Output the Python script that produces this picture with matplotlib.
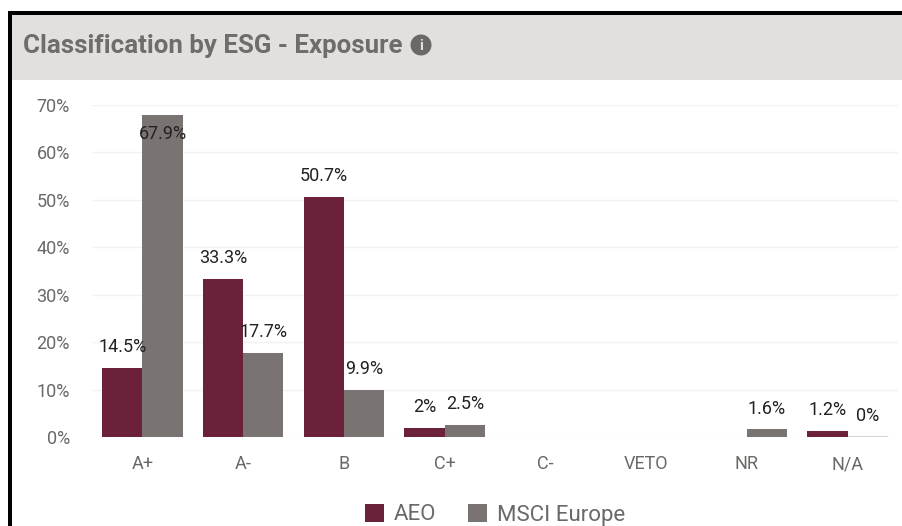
import numpy as np
import matplotlib
matplotlib.use('Agg')
import matplotlib.pyplot as plt
from matplotlib.patches import Rectangle, Circle

categories = ['A+', 'A-', 'B', 'C+', 'C-', 'VETO', 'NR', 'N/A']
aeo = [14.5, 33.3, 50.7, 2, None, None, None, 1.2]
msci = [67.9, 17.7, 9.9, 2.5, None, None, 1.6, 0]
yticks = [0, 10, 20, 30, 40, 50, 60, 70]

W, H = 902, 526
plt.rcParams['font.family'] = ['Roboto', 'DejaVu Sans']
fig = plt.figure(figsize=(W / 100, H / 100), dpi=100, facecolor='white')

# page furniture, in pixels from the top left
bg = fig.add_axes([0, 0, 1, 1])
bg.set_xlim(0, W)
bg.set_ylim(H, 0)
bg.axis('off')
bg.add_patch(Rectangle((11, 14), W - 11, 66, color='#e2dfdd', lw=0))
bg.add_patch(Rectangle((8, 11), W - 8, 3.5, color='black', lw=0))
bg.add_patch(Rectangle((8, 11), 3.5, H - 11, color='black', lw=0))
bg.text(23, 45.5, 'Classification by ESG - Exposure', fontsize=18.6, fontweight='bold',
        color='#6f6d6b', va='center', ha='left')
bg.add_patch(Circle((421, 45), 10.5, color='#6b6967', lw=0))
bg.text(421, 45.5, 'i', fontsize=11, fontweight='bold', color='#e2dfdd', va='center', ha='center')

# plot area: 0% at y=437, 70% at y=105
ax = fig.add_axes([92 / W, 1 - 437 / H, 806 / W, 332 / H])
ax.patch.set_alpha(0)
x = np.arange(len(categories))
w = 0.4

for i in range(len(categories)):
    if aeo[i] is not None:
        ax.bar(x[i] - w / 2, aeo[i], w, color='#6c213b', zorder=3)
    if msci[i] is not None:
        if msci[i] == 0:
            ax.bar(x[i] + w / 2, msci[i], w, color='#cfcdcc', edgecolor='#cfcdcc', linewidth=1.2, zorder=3)
        else:
            ax.bar(x[i] + w / 2, msci[i], w, color='#797472', zorder=3)


def put_label(xpos, val, dy=15):
    ax.annotate(f'{val}%', (xpos, val), xytext=(0, dy), textcoords='offset points',
                ha='center', va='center', fontsize=13, color='#222222', zorder=5)


for i in range(len(categories)):
    if aeo[i] is not None:
        put_label(x[i] - w / 2, aeo[i])
    if msci[i] is not None:
        # the tallest label sits inside its bar
        put_label(x[i] + w / 2, msci[i], -14 if msci[i] > 60 else 15)

ax.set_xlim(-0.5, 7.5)
ax.set_ylim(0, 70)
ax.set_xticks(x)
ax.set_xticklabels(categories)
ax.set_yticks(yticks)
ax.set_yticklabels([f'{v}%' for v in yticks])
ax.tick_params(length=0, labelsize=13, labelcolor='#6b6967')
ax.tick_params(axis='x', pad=13)
ax.tick_params(axis='y', pad=16)
ax.grid(axis='y', color='#f3f2f2', linewidth=1, zorder=0)
ax.set_axisbelow(True)
for s in ax.spines.values():
    s.set_visible(False)

# legend
bg.add_patch(Rectangle((365, 504), 19, 18, color='#6c213b', lw=0))
bg.add_patch(Rectangle((468, 504), 19, 18, color='#797472', lw=0))
bg.text(394, 515, 'AEO', fontsize=16, color='#6b6967', va='center', ha='left')
bg.text(497, 515, 'MSCI Europe', fontsize=16, color='#6b6967', va='center', ha='left')

fig.savefig('out.png', dpi=100)
